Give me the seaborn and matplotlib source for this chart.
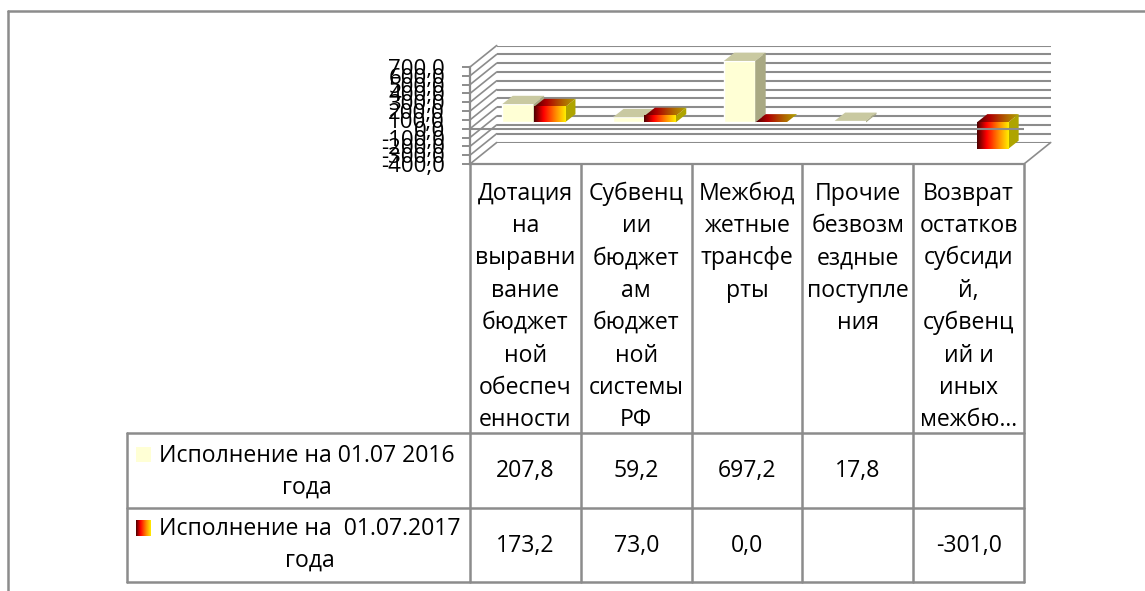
import numpy as np
import pandas as pd
import matplotlib
matplotlib.use("Agg")
import matplotlib.pyplot as plt
import seaborn as sns
from matplotlib.colors import LinearSegmentedColormap
from matplotlib.lines import Line2D
from matplotlib.patches import Polygon, Rectangle
from matplotlib.transforms import Affine2D, blended_transform_factory

categories = ["Дотация на выравнивание", "Субвенции", "Межбюджетные трансферты",
              "Прочие безвозмездные", "Возврат остатков"]
category_lines = [
    ["Дотация", "на", "выравни", "вание", "бюджет", "ной", "обеспеч", "енности"],
    ["Субвенц", "ии", "бюджет", "ам", "бюджет", "ной", "системы", "РФ"],
    ["Межбюд", "жетные", "трансфе", "рты"],
    ["Прочие", "безвозм", "ездные", "поступле", "ния"],
    ["Возврат", "остатков", "субсиди", "й,", "субвенц", "ий и", "иных", "межбю..."],
]
series_names = ["Исполнение на 01.07 2016 года", "Исполнение на  01.07.2017 года"]
series_lines = [["Исполнение на 01.07 2016", "года"], ["Исполнение на  01.07.2017", "года"]]
values_2016 = [207.8, 59.2, 697.2, 17.8, np.nan]
values_2017 = [173.2, 73.0, 0.0, np.nan, -301.0]
y_ticks = [700, 600, 500, 400, 300, 200, 100, 0, -100, -200, -300, -400]

W, H = 1145, 591
GRAY = "#8c8c8c"
FONT = ["Open Sans", "Noto Sans", "DejaVu Sans"]

sns.set_theme(style="white")
plt.rcParams["font.family"] = FONT

fig = plt.figure(figsize=(W / 100, H / 100), dpi=100)
px = Affine2D().scale(1 / W, -1 / H).translate(0, 1) + fig.transFigure


def make_axes(left, top, right, bottom, zorder):
    a = fig.add_axes([left / W, 1 - bottom / H, (right - left) / W, (bottom - top) / H], zorder=zorder)
    a.patch.set_visible(False)
    return a


# back wall, bars and front plane share the same scales, shifted for the fake 3D look
ax_back = make_axes(496.7, 45.5, 1050.7, 142.5, 1)
ax_bars = make_axes(478.2, 60.7, 1032.2, 157.7, 2)
ax_front = make_axes(470, 67, 1024, 164, 3)

df = pd.DataFrame({"category": categories, series_names[0]: values_2016, series_names[1]: values_2017})
long_df = df.melt(id_vars="category", var_name="series", value_name="value")
sns.barplot(data=long_df, x="category", y="value", hue="series", order=categories,
            hue_order=series_names, palette=["#ffffd5", "#ff6000"], width=0.566, gap=0,
            saturation=1, legend=False, ax=ax_bars)

for a in (ax_back, ax_bars, ax_front):
    a.set_xlim(-0.5, 4.5)
    a.set_ylim(-400, 700)
    a.set_xlabel("")
    a.set_ylabel("")

ax_back.axis("off")
ax_bars.axis("off")
for y in y_ticks:
    ax_back.axhline(y, color=GRAY, lw=1.5)

fire = LinearSegmentedColormap.from_list(
    "fire", [(0, "#4a0000"), (0.3, "#ff0000"), (0.7, "#ff9000"), (1, "#ffee00")])
fire_top = LinearSegmentedColormap.from_list(
    "fire_top", [(0, "#4a0000"), (0.3, "#b00000"), (0.7, "#b06400"), (1, "#b0a400")])
ramp = np.linspace(0, 1, 128).reshape(1, -1)

# depth of a bar in data units
depth_x = 10.5 / 110.8
depth_y = 8.3 / (97 / 1100)

for bars, solid in zip(ax_bars.containers, [True, False]):
    for bar in bars:
        x0, w, h = bar.get_x(), bar.get_width(), bar.get_height()
        lo, hi = min(0, h), max(0, h)
        top = [(x0, hi), (x0 + w, hi), (x0 + w + depth_x, hi + depth_y), (x0 + depth_x, hi + depth_y)]
        side = [(x0 + w, lo), (x0 + w + depth_x, lo + depth_y), (x0 + w + depth_x, hi + depth_y), (x0 + w, hi)]
        if solid:
            ax_bars.add_patch(Polygon(top, color="#c9c9a1", lw=0, clip_on=False, zorder=3))
            ax_bars.add_patch(Polygon(side, color="#a9a983", lw=0, clip_on=False, zorder=3))
        else:
            bar.set_visible(False)
            ax_bars.add_patch(Polygon(side, color="#aea400", lw=0, zorder=4))
            im = ax_bars.imshow(ramp, cmap=fire_top, aspect="auto", zorder=4,
                                extent=[x0, x0 + w + depth_x, hi, hi + depth_y])
            im.set_clip_path(Polygon(top, transform=ax_bars.transData))
            if hi > lo:
                ax_bars.imshow(ramp, cmap=fire, aspect="auto", zorder=4, extent=[x0, x0 + w, lo, hi])
ax_bars.set_xlim(-0.5, 4.5)
ax_bars.set_ylim(-400, 700)
for bar in ax_bars.containers[0]:
    bar.set_zorder(3)

# front plane: value axis and zero line
sns.despine(ax=ax_front, top=True, right=True, bottom=False, left=False)
for s in ("left", "bottom"):
    ax_front.spines[s].set_color(GRAY)
    ax_front.spines[s].set_linewidth(1.6)
ax_front.set_xticks([])
ax_front.set_yticks(y_ticks)
ax_front.set_yticklabels([f"{v:.1f}".replace(".", ",") for v in y_ticks], fontsize=16, color="black")
ax_front.tick_params(axis="y", length=6, width=1.4, color=GRAY, pad=12, left=True)
ax_front.axhline(0, color=GRAY, lw=1.5, zorder=5)

# diagonal lines joining the front plane with the back wall
for y in y_ticks:
    p0 = ax_front.transData.transform((-0.5, y))
    p1 = ax_back.transData.transform((-0.5, y))
    fig.add_artist(Line2D([p0[0], p1[0]], [p0[1], p1[1]], transform=None, color=GRAY, lw=1.2))
p0 = ax_front.transData.transform((4.5, -400))
p1 = ax_back.transData.transform((4.5, -400))
fig.add_artist(Line2D([p0[0], p1[0]], [p0[1], p1[1]], transform=None, color=GRAY, lw=1.2))


def line(x0, y0, x1, y1, lw=1.8):
    fig.add_artist(Line2D([x0, x1], [y0, y1], transform=px, color=GRAY, lw=lw))


# outer frame, open on the right and at the bottom
line(8, 591, 8, 11)
line(8, 11, 1145, 11)

# data table under the plot
col_x = [470, 581, 692, 802, 913, 1023.5]
for x in col_x:
    line(x, 164, x, 581.5)
line(127, 433, 1023.5, 433)
line(127, 508, 1023.5, 508)
line(127, 581.5, 1023.5, 581.5)
line(127, 433, 127, 581.5)

blend = blended_transform_factory(ax_front.transData, px)
text_kw = dict(ha="center", va="center", fontsize=16.6, color="black")
for i, lines in enumerate(category_lines):
    for j, s in enumerate(lines):
        fig.text(i, 193.5 + 32.4 * j, s, transform=blend, **text_kw)

row_y = [471.5, 546]
for vals, y in zip([values_2016, values_2017], row_y):
    for i, v in enumerate(vals):
        if not np.isnan(v):
            fig.text(i, y, f"{v:.1f}".replace(".", ","), transform=blend, **text_kw)

legend_x = [307, 310]
legend_y = [(456, 488), (529, 561)]
for lines, cx, ys in zip(series_lines, legend_x, legend_y):
    for s, y in zip(lines, ys):
        fig.text(cx, y, s, transform=px, **text_kw)

fig.add_artist(Rectangle((136, 446.5), 15, 15, transform=px, color="#ffffd5", lw=0))
ax_key = make_axes(136, 520, 151, 536, 4)
ax_key.imshow(ramp, cmap=fire, aspect="auto")
ax_key.axis("off")

fig.savefig("out.png", dpi=100)
